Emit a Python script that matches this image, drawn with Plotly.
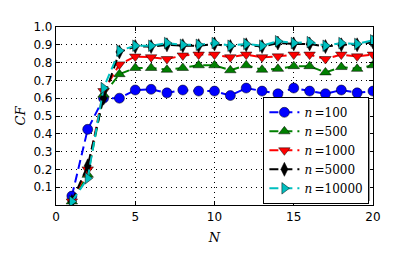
import plotly.graph_objects as go

N = list(range(1, 21))
cf_100 = [0.05, 0.425, 0.60, 0.60, 0.646, 0.65, 0.63, 0.646, 0.64, 0.64,
          0.615, 0.657, 0.64, 0.625, 0.657, 0.64, 0.625, 0.646, 0.63, 0.64]
cf_500 = [0.02, 0.17, 0.62, 0.735, 0.77, 0.77, 0.76, 0.77, 0.785, 0.785,
          0.757, 0.785, 0.76, 0.765, 0.78, 0.78, 0.745, 0.775, 0.765, 0.785]
cf_1000 = [0.02, 0.20, 0.64, 0.79, 0.834, 0.83, 0.82, 0.84, 0.845, 0.845,
           0.83, 0.845, 0.83, 0.835, 0.845, 0.845, 0.82, 0.845, 0.835, 0.845]
cf_5000 = [0.02, 0.22, 0.60, 0.86, 0.89, 0.89, 0.90, 0.895, 0.895, 0.905,
           0.89, 0.90, 0.89, 0.91, 0.905, 0.905, 0.89, 0.90, 0.90, 0.915]
cf_10000 = [0.02, 0.15, 0.657, 0.867, 0.895, 0.895, 0.91, 0.90, 0.90, 0.91,
            0.895, 0.905, 0.895, 0.92, 0.91, 0.915, 0.895, 0.91, 0.905, 0.925]

labels = ["100", "500", "1000", "5000", "10000"]
series = [cf_100, cf_500, cf_1000, cf_5000, cf_10000]
colors = ["#0000FF", "#008000", "#FF0000", "#000000", "#00BFBF"]
symbols = ["circle", "triangle-up", "triangle-down", "diamond-tall", "triangle-right"]

fig = go.Figure()
for lab, ys, c, s in zip(labels, series, colors, symbols):
    fig.add_trace(go.Scatter(
        x=N, y=ys, mode="lines+markers",
        name="<i>n</i>\u2009=" + lab,
        line=dict(color=c, width=2, dash="9px,5px"),
        marker=dict(symbol=s, size=10, color=c, line=dict(color="black", width=0.5)),
    ))

axis_common = dict(
    showline=True, linecolor="black", linewidth=1.2, mirror="ticks",
    ticks="inside", ticklen=4, tickcolor="black",
    showgrid=True, gridcolor="black", griddash="1px,4px", gridwidth=1,
    zeroline=False,
    tickfont=dict(family="DejaVu Sans", size=12, color="black"),
)

fig.update_xaxes(range=[0, 20], tickvals=[0, 5, 10, 15, 20],
                 title=dict(text="<i>N</i>", font=dict(family="DejaVu Serif", size=13, color="black"), standoff=10),
                 **axis_common)
fig.update_yaxes(range=[0, 1.0], tickvals=[0.1, 0.2, 0.3, 0.4, 0.5, 0.6, 0.7, 0.8, 0.9, 1.0],
                 tickformat=".1f",
                 title=dict(text="<i>CF</i>", font=dict(family="DejaVu Serif", size=13, color="black"), standoff=4),
                 **axis_common)

# legend shadow (paper coords, plot area is 321 x 181 px)
fig.add_shape(type="rect", xref="paper", yref="paper",
              x0=(265 - 52) / 321, x1=(370 - 52) / 321,
              y0=(205 - 201) / 181, y1=(205 - 98) / 181,
              fillcolor="#999999", line=dict(width=0), layer="above")

fig.update_layout(
    width=415, height=257,
    margin=dict(l=44, r=50, t=16, b=60),
    paper_bgcolor="white", plot_bgcolor="white",
    showlegend=True,
    legend=dict(x=(262 - 52) / 321, y=(205 - 95) / 181, xanchor="left", yanchor="top",
                bgcolor="white", bordercolor="black", borderwidth=1,
                font=dict(family="DejaVu Serif", size=12, color="black"),
                itemwidth=30, tracegroupgap=0),
)

fig.write_html("out.html")
